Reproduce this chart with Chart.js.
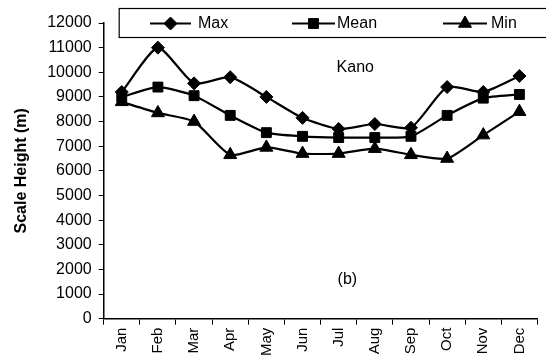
<!DOCTYPE html>
<html>
<head>
<meta charset="utf-8">
<script src="https://cdn.jsdelivr.net/npm/chart.js@4/dist/chart.umd.min.js"></script>
<style>
html,body{margin:0;padding:0;background:#fff;}
#wrap{width:546px;height:361px;position:relative;}
</style>
</head>
<body>
<div id="wrap"><canvas id="c" width="546" height="361"></canvas></div>
<script>
const months = ["Jan","Feb","Mar","Apr","May","Jun","Jul","Aug","Sep","Oct","Nov","Dec"];
const maxVals  = [9200, 11000, 9550, 9800, 9000, 8150, 7700, 7900, 7750, 9400, 9200, 9850];
const meanVals = [9000, 9400, 9050, 8250, 7550, 7400, 7350, 7350, 7400, 8250, 8950, 9100];
const minVals  = [8800, 8350, 8000, 6650, 6950, 6700, 6700, 6900, 6650, 6500, 7450, 8400];
const yTicks = [0,1000,2000,3000,4000,5000,6000,7000,8000,9000,10000,11000,12000];
const seriesNames = ["Max","Mean","Min"];
const stationLabel = "Kano";
const panelLabel = "(b)";
const yTitle = "Scale Height (m)";

const FONT = "'Liberation Sans', Arial, sans-serif";

const overlay = {
  id: 'overlay',
  afterDatasetsDraw(chart) {
    const ctx = chart.ctx;
    const ca = chart.chartArea;
    const xs = chart.scales.x;
    ctx.save();
    ctx.fillStyle = '#000';
    ctx.font = "16px " + FONT;
    ctx.textAlign = 'center';
    ctx.textBaseline = 'middle';
    ctx.fillText(stationLabel, xs.getPixelForDecimal((6.46 + 0.5) / 12), 68);
    ctx.fillText(panelLabel, xs.getPixelForDecimal((6.24 + 0.5) / 12), 280);
    // legend box
    const bx = ca.left + 15, by = 8, bw = chart.width - bx + 2, bh = 29;
    ctx.fillStyle = '#fff';
    ctx.fillRect(bx, by, bw, bh);
    ctx.strokeStyle = '#000';
    ctx.lineWidth = 1.2;
    ctx.strokeRect(bx + 0.5, by + 0.5, bw, bh);
    const items = [{x0:150,x1:191,tx:198},{x0:292,x1:335,tx:337},{x0:443,x1:487,tx:491}];
    const cy = by + bh / 2 + 1;
    chart.data.datasets.forEach((ds, i) => {
      const it = items[i];
      ctx.strokeStyle = '#000';
      ctx.lineWidth = 2;
      ctx.beginPath();
      ctx.moveTo(it.x0, cy); ctx.lineTo(it.x1, cy); ctx.stroke();
      ctx.fillStyle = '#000';
      ctx.lineWidth = 1;
      Chart.helpers.drawPoint(ctx, {pointStyle: ds.pointStyle, radius: ds.pointRadius, borderWidth: 1}, (it.x0 + it.x1) / 2, cy);
      ctx.fillStyle = '#000';
      ctx.font = "16px " + FONT;
      ctx.textAlign = 'left';
      ctx.textBaseline = 'middle';
      ctx.fillText(ds.label, it.tx, cy);
    });
    ctx.restore();
  }
};

const mk = (label, data, style, r) => ({
  label, data,
  borderColor: '#000', backgroundColor: '#000',
  borderWidth: 2.2, tension: 0.2,
  pointStyle: style, pointRadius: r, pointHoverRadius: r,
  pointBackgroundColor: '#000', pointBorderColor: '#000', pointBorderWidth: 1
});

new Chart(document.getElementById('c'), {
  type: 'line',
  data: {
    labels: months,
    datasets: [
      mk(seriesNames[0], maxVals, 'rectRot', 6.5),
      mk(seriesNames[1], meanVals, 'rect', 7),
      mk(seriesNames[2], minVals, 'triangle', 7.5)
    ]
  },
  options: {
    responsive: false,
    animation: false,
    devicePixelRatio: 1,
    layout: { padding: { left: 12, right: 0, top: 23, bottom: 2 } },
    plugins: { legend: { display: false }, tooltip: { enabled: false } },
    scales: {
      x: {
        offset: true,
        grid: { offset: true, drawOnChartArea: false, drawTicks: true, tickLength: 6, color: '#000', lineWidth: 1 },
        border: { color: '#000', width: 1.5 },
        ticks: { color: '#000', font: { family: FONT, size: 15 }, maxRotation: 90, minRotation: 90, padding: 3, autoSkip: false }
      },
      y: {
        min: 0, max: 12000,
        afterBuildTicks: (s) => { s.ticks = yTicks.map(v => ({ value: v })); },
        grid: { drawOnChartArea: false, drawTicks: true, tickLength: 5, color: '#000', lineWidth: 1 },
        border: { color: '#000', width: 1.5 },
        ticks: { color: '#000', font: { family: FONT, size: 16 }, padding: 7, callback: (v) => String(v) },
        title: { display: true, text: yTitle, color: '#000', font: { family: FONT, size: 16, weight: 'bold' }, padding: { top: 0, bottom: 9 } }
      }
    }
  },
  plugins: [overlay]
});
</script>
</body>
</html>
